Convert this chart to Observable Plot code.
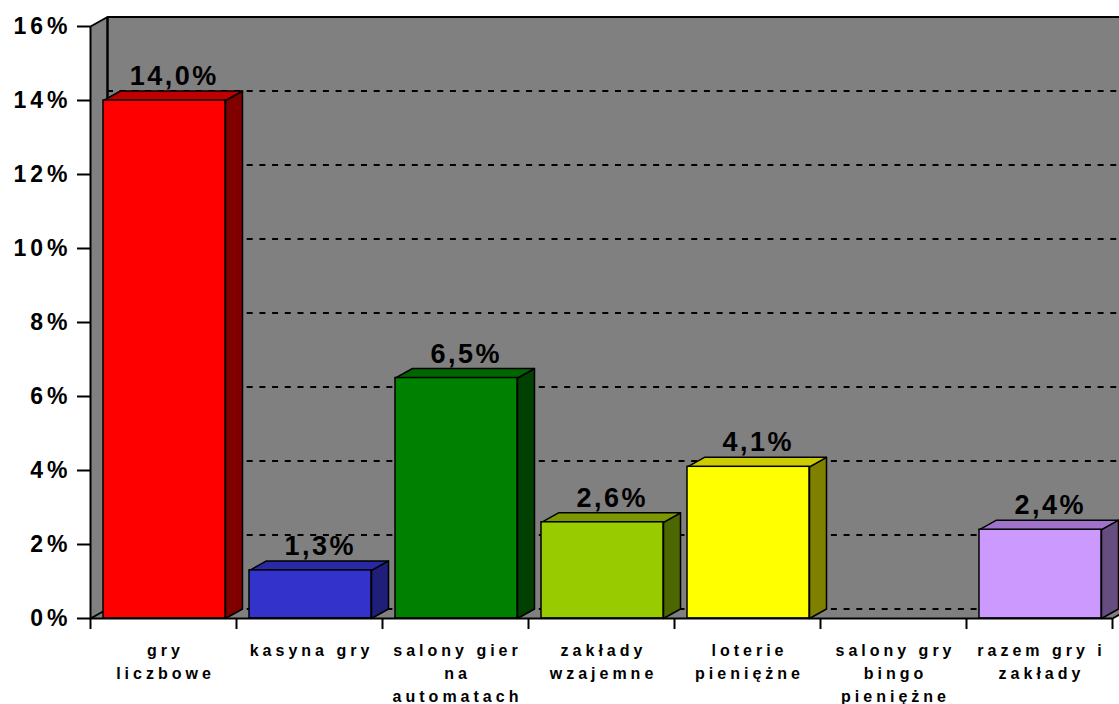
<!DOCTYPE html>
<html><head><meta charset="utf-8">
<script src="https://cdn.jsdelivr.net/npm/d3@7"></script>
<script src="https://cdn.jsdelivr.net/npm/@observablehq/plot@0.6"></script>
<style>
html,body{margin:0;padding:0;background:#fff;overflow:hidden}
#chart svg{display:block}
</style></head><body><div id="chart"></div>
<script>
// ---- data ----
const categories = ["gry\nliczbowe", "kasyna gry", "salony gier\nna\nautomatach", "zakłady\nwzajemne", "loterie\npieniężne", "salony gry\nbingo\npieniężne", "razem gry i\nzakłady"];
const values = [14.0, 1.3, 6.5, 2.6, 4.1, null, 2.4];
const valueLabels = ["14,0%", "1,3%", "6,5%", "2,6%", "4,1%", null, "2,4%"];
const yTicks = [0, 2, 4, 6, 8, 10, 12, 14, 16];
const yTickLabels = ["0%", "2%", "4%", "6%", "8%", "10%", "12%", "14%", "16%"];

// ---- styles ----
const frontColors = ["#FF0000", "#3333CC", "#008000", "#99CC00", "#FFFF00", "#808080", "#CC99FF"];
const topColors   = ["#C00000", "#2929A3", "#006600", "#7A9900", "#CCCC00", "#666666", "#9F73CC"];
const sideColors  = ["#800000", "#1F1F7A", "#004000", "#4C6600", "#808000", "#404040", "#664D80"];
const wallColor = "#808080";

// ---- geometry (in scale units) ----
const N = categories.length;
const YMAX = 16;
const DX = 17 / 146;   // depth offset along x (category units)
const DY = 9.5 / 37;   // depth offset along y (percent units)
const B0 = 13 / 146, B1 = 135 / 146; // bar front extent within a category
const XR = N + 0.3;   // back wall extends past the right edge

function polyRows(id, pts, fill) {
  return pts.map(([x, y]) => ({id, x, y, fill}));
}

const bars = values.map((v, i) => ({i, v, label: valueLabels[i]})).filter(d => d.v != null);

const wallRows = [
  ...polyRows("back", [[DX, DY], [XR, DY], [XR, YMAX + DY], [DX, YMAX + DY]], wallColor),
  ...polyRows("floor", [[0, 0], [N, 0], [N + DX, DY], [DX, DY]], wallColor)
];
const sideWallRows = polyRows("side", [[0, 0], [DX, DY], [DX, YMAX + DY], [0, YMAX], [0, 0]], wallColor);
const backEdgeRows = polyRows("edge", [[DX, DY], [DX, YMAX + DY], [XR, YMAX + DY]], "none");
const floorEdgeRows = polyRows("fedge", [[N, 0], [N + DX, DY]], "none");

const topRows = bars.flatMap(d => {
  const xl = d.i + B0, xr = d.i + B1;
  return polyRows("t" + d.i, [[xl, d.v], [xr, d.v], [xr + DX, d.v + DY], [xl + DX, d.v + DY], [xl, d.v]], topColors[d.i]);
});
const sideRows = bars.flatMap(d => {
  const xr = d.i + B1;
  return polyRows("s" + d.i, [[xr, 0], [xr + DX, DY], [xr + DX, d.v + DY], [xr, d.v], [xr, 0]], sideColors[d.i]);
});

const gridVals = yTicks.filter(v => v < YMAX);
const sideGridVals = yTicks.filter(v => v > 0 && v < YMAX);

const svg = Plot.plot({
  width: 1119,
  height: 704,
  marginLeft: 90,
  marginRight: 7,
  marginTop: 26,
  marginBottom: 86,
  x: {type: "linear", domain: [0, N], axis: null},
  y: {domain: [0, YMAX], axis: null},
  color: {type: "identity"},
  style: {fontFamily: "Arial, 'Liberation Sans', sans-serif", fontWeight: "bold", background: "#ffffff", overflow: "hidden", color: "#000"},
  marks: [
    Plot.line(wallRows, {x: "x", y: "y", z: "id", fill: "fill", stroke: "none"}),
    Plot.ruleY(gridVals, {y: d => d + DY, x1: DX, x2: XR, stroke: "#000", strokeWidth: 2, strokeDasharray: "6,6.7"}),
    Plot.link(sideGridVals, {x1: 0, y1: d => d, x2: DX, y2: d => d + DY, stroke: "#000", strokeWidth: 2, strokeDasharray: "6,6.7"}),
    Plot.line(sideWallRows, {x: "x", y: "y", z: "id", fill: "fill", stroke: "#000", strokeWidth: 2, strokeLinejoin: "miter"}),
    Plot.line(backEdgeRows, {x: "x", y: "y", z: "id", stroke: "#000", strokeWidth: 2, strokeLinejoin: "miter"}),
    Plot.line(floorEdgeRows, {x: "x", y: "y", z: "id", stroke: "#000", strokeWidth: 2}),
    // bars: side, top, front faces
    Plot.line(sideRows, {x: "x", y: "y", z: "id", fill: "fill", stroke: "#000", strokeWidth: 1.5, strokeLinejoin: "round"}),
    Plot.line(topRows, {x: "x", y: "y", z: "id", fill: "fill", stroke: "#000", strokeWidth: 1.5, strokeLinejoin: "round"}),
    Plot.rect(bars, {x1: d => d.i + B0, x2: d => d.i + B1, y1: 0, y2: d => d.v, fill: d => frontColors[d.i], stroke: "#000", strokeWidth: 1.5}),
    // value labels
    Plot.text(bars, {x: d => d.i + (B0 + B1) / 2 + DX / 2, y: d => d.v + DY, text: d => d.label, fontSize: 27, lineAnchor: "bottom", dy: -6, dx: 1.25, fill: "#000"}),
    // x axis line and ticks
    Plot.ruleY([0], {x1: 0, x2: N, stroke: "#000", strokeWidth: 2}),
    Plot.ruleX(d3.range(N + 1), {x: d => d, y1: 0, y2: -11 / 37, stroke: "#000", strokeWidth: 2}),
    // category labels
    Plot.text(categories, {x: (d, i) => i + 0.5, y: 0, text: d => d, fontSize: 16, lineAnchor: "top", lineHeight: 1.4375, dy: 21, dx: 2, fill: "#000"}),
    // y axis
    Plot.axisY(yTicks, {label: null, tickFormat: d => yTickLabels[yTicks.indexOf(d)], tickSize: 13, tickPadding: 6, fontSize: 23, strokeWidth: 2, stroke: "#000", fill: "#000"})
  ]
});

d3.select(svg).selectAll("g").each(function () {
  const fs = parseFloat(this.getAttribute("font-size"));
  if (fs === 27) this.style.letterSpacing = "2.5px";
  else if (fs === 16) this.style.letterSpacing = "4px";
  else if (fs === 23) this.style.letterSpacing = "4px";
});
d3.select(svg).selectAll('g[aria-label="y-axis tick label"]').style("letter-spacing", "4px");

document.getElementById("chart").appendChild(svg);
</script>
</body></html>
